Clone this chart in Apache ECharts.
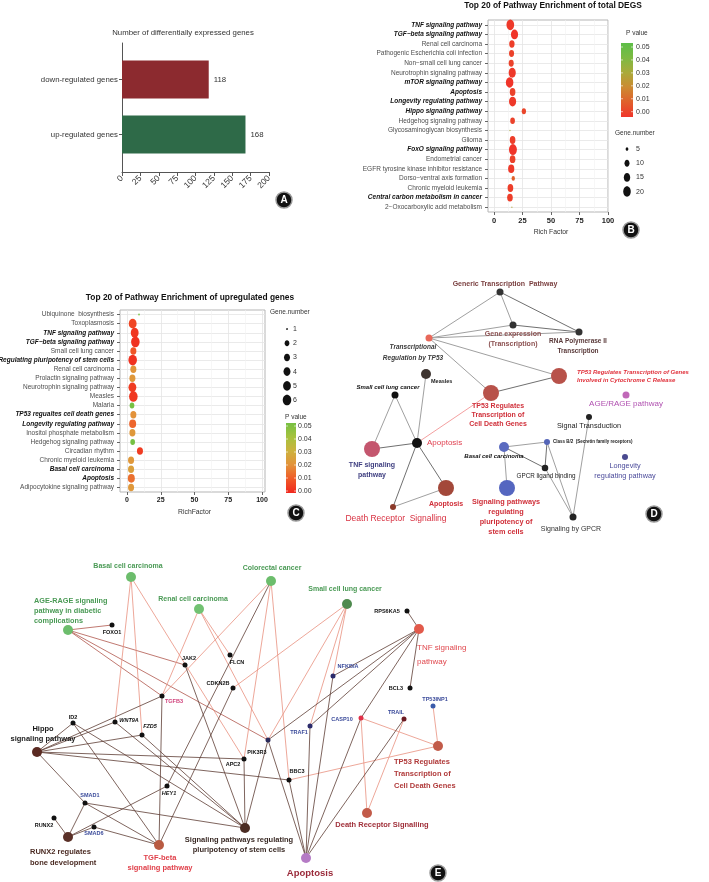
<!DOCTYPE html>
<html><head><meta charset="utf-8">
<script src="https://cdn.jsdelivr.net/npm/echarts@6/dist/echarts.min.js"></script>
<style>html,body{margin:0;padding:0;background:#fff}#c{width:709px;height:882px}</style>
</head><body><div id="c"></div>
<script>
// ---------------- DATA ----------------
// Panel A
const degCategories = ['down-regulated genes', 'up-regulated genes'];
const degCounts = [118, 168];

// Panel B
const pathwaysB = ['TNF signaling pathway','TGF\u2212beta signaling pathway','Renal cell carcinoma','Pathogenic Escherichia coli infection','Non\u2212small cell lung cancer','Neurotrophin signaling pathway','mTOR signaling pathway','Apoptosis','Longevity regulating pathway','Hippo signaling pathway','Hedgehog signaling pathway','Glycosaminoglycan biosynthesis','Glioma','FoxO signaling pathway','Endometrial cancer','EGFR tyrosine kinase inhibitor resistance','Dorso\u2212ventral axis formation','Chronic myeloid leukemia','Central carbon metabolism in cancer','2\u2212Oxocarboxylic acid metabolism'];
const richFactorB = [14.3,18,15.7,15.4,15.1,16,13.7,16.3,16.3,26.2,16.3,14,16.3,16.6,16.3,15.1,16.9,14.4,14,15.7];
const geneNumberB = [21,18,11,10,10,18,20,12,18,8,9,3,12,22,12,14,6,12,12,3];
const pValueB = [0.001,0.000,0.002,0.003,0.003,0.001,0.000,0.003,0.001,0.004,0.003,0.030,0.002,0.000,0.003,0.001,0.010,0.002,0.002,0.028];
const emphasizedB = ['TNF signaling pathway','TGF\u2212beta signaling pathway','mTOR signaling pathway','Apoptosis','Longevity regulating pathway','Hippo signaling pathway','FoxO signaling pathway','Central carbon metabolism in cancer'];
const sizeLegendB = [5,10,15,20];
const pTicks = [0.05,0.04,0.03,0.02,0.01,0.00];

// Panel C
const pathwaysC = ['Ubiquinone  biosynthesis','Toxoplasmosis','TNF signaling pathway','TGF\u2212beta signaling pathway','Small cell lung cancer','Regulating pluripotency of stem cells','Renal cell carcinoma','Prolactin signaling pathway','Neurotrophin signaling pathway','Measles','Malaria','TP53 regualtes cell death genes','Longevity regulating pathway','Inositol phosphate metabolism','Hedgehog signaling pathway','Circadian rhythm','Chronic myeloid leukemia','Basal cell carcinoma','Apoptosis','Adipocytokine signaling pathway'];
const richFactorC = [8.9,4.2,5.7,6.2,4.7,4.2,4.7,4.0,4.0,4.7,3.7,4.7,4.2,4.0,4.2,9.6,3.0,3.0,3.2,3.0];
const geneNumberC = [1,5,5,6,3,6,3,3,5,6,2,3,4,3,2,3,3,3,4,3];
const pValueC = [0.07,0.006,0.003,0.002,0.009,0.002,0.021,0.022,0.004,0.003,0.07,0.020,0.012,0.022,0.07,0.004,0.022,0.024,0.014,0.022];
const emphasizedC = ['TNF signaling pathway','TGF\u2212beta signaling pathway','Regulating pluripotency of stem cells','TP53 regualtes cell death genes','Longevity regulating pathway','Basal cell carcinoma','Apoptosis'];
const sizeLegendC = [1,2,3,4,5,6];

// Panel D network
const netDNodes = ['Generic Transcription  Pathway','Gene expression\n(Transcription)','RNA Polymerase II\nTranscription','Transcriptional\nRegulation by TP53','Measles','Small cell lung cancer','TP53 Regulates\nTranscription of\nCell Death Genes','TP53 Regulates Transcription of Genes\nInvolved in Cytochrome C Release','Apoptosis','TNF signaling\npathway','Apoptosis ','Death Receptor  Signalling','AGE/RAGE pathway','Signal Transduction','Class B/2  (Secretin family receptors)','Basal cell carcinoma','GPCR ligand binding','Longevity\nregulating pathway','Signaling pathways\nregulating\npluripotency of\nstem cells','Signaling by GPCR'];
const netDEdges = [[0,3],[0,1],[0,2],[1,2],[3,1],[3,2],[3,6],[3,7],[6,7],[8,6],[4,8],[5,8],[5,9],[9,8],[8,10],[8,11],[11,10],[15,14],[15,16],[15,18],[14,16],[14,19],[16,19],[13,19]];
const netDEdgeKind = ['g','g','d','d','g','g','g','g','d','p','g','g','g','d','d','d','g','g','d','g','d','g','g','g'];
// Panel E network
const netENodes = ['Basal cell carcinoma','Colorectal cancer','Renal cell carcinoma','AGE-RAGE signaling\npathway in diabetic\ncomplications','Small cell lung cancer','TNF signaling\npathway','Hippo\nsignaling pathway','RUNX2 regulates\nbone development','TGF-beta\nsignaling pathway','Signaling pathways regulating\npluripotency of stem cells','Apoptosis','Death Receptor Signalling','TP53 Regulates\nTranscription of\nCell Death Genes','FOXO1','JAK2','FLCN','CDKN2B','NFKBIA','TGFB3','RPS6KA5','BCL3','TP53INP1','ID2','WNT9A','FZD5','PIK3R3','APC2','TRAF1','CASP10','TRAIL','BBC3','HEY1','SMAD1','SMAD6','RUNX2'];
const netEEdges = [
 [3,13,'r'],[3,14,'r'],[3,18,'r'],[3,25,'r'],
 [0,23,'s'],[0,24,'s'],[0,26,'s'],
 [2,18,'s'],[2,15,'s'],[2,25,'s'],
 [1,18,'s'],[1,26,'s'],[1,30,'s'],[1,31,'d'],
 [4,16,'s'],[4,25,'s'],[4,27,'s'],[4,17,'s'],
 [5,19,'d'],[5,20,'d'],[5,17,'d'],[5,25,'d'],[5,27,'d'],[5,28,'d'],
 [12,21,'s'],[12,28,'s'],[12,30,'s'],
 [11,28,'s'],[11,29,'s'],
 [10,25,'d'],[10,27,'d'],[10,28,'d'],[10,29,'d'],[10,30,'d'],[10,17,'d'],
 [6,22,'d'],[6,23,'d'],[6,24,'d'],[6,18,'d'],[6,26,'d'],[6,30,'d'],[6,32,'d'],
 [8,22,'d'],[8,18,'d'],[8,16,'d'],[8,32,'d'],[8,33,'d'],
 [9,22,'d'],[9,23,'d'],[9,24,'d'],[9,14,'d'],[9,26,'d'],[9,32,'d'],[9,25,'d'],
 [7,34,'d'],[7,32,'d'],[7,33,'d'],[7,31,'d']
];

// ---------------- LAYOUT & STYLE (not data) ----------------
const layoutD = [[200,22],[213,55],[279,62],[129,68],[126,104],[95,125],[191,123],[259,106],[117,173],[72,179],[146,218],[93,237],[326,125],[289,147],[247,172],[204,177],[245,198],[325,187],[207,218],[273,247]];
// size, fill, dx, dy, align, fontSize, weight, italic, textColor, lineHeight
const styleD = [
 [7,'#333',5,-8,'center',7,'bold',0,'#7A3F3F',9],
 [7,'#333',0,14,'center',7,'bold',0,'#8B5050',10],
 [7,'#333',-1,14,'center',6.5,'bold',0,'#5A3A3A',10],
 [7,'#E8685A',-16,14.5,'center',6.5,'bold',1,'#3A3A3A',11],
 [10,'#3E3430',5,7,'left',5.5,'bold',0,'#222',8],
 [7,'#111',-7,-8,'center',6,'bold',1,'#111',8],
 [16,'#B8524A',7,22,'center',7,'bold',0,'#D0303A',9],
 [16,'#B8524A',18,0,'left',6,'bold',1,'#E0303A',8],
 [10,'#111',10,0,'left',8,'normal',0,'#E04050',9],
 [16,'#C4566E',0,21,'center',7,'bold',0,'#3F3F80',10],
 [16,'#A3483A',1,16,'center',7,'bold',0,'#D0303A',9],
 [6,'#8B3A2A',3,12,'center',8.5,'normal',0,'#D83040',10],
 [7,'#C068B8',0,9,'center',8,'normal',0,'#B050B0',10],
 [6,'#222',0,9,'center',7.3,'normal',0,'#222',9],
 [6,'#5566B8',6,0,'left',4.5,'bold',0,'#222',6],
 [10,'#5B6BC0',-10,9,'center',6,'bold',1,'#111',8],
 [6.5,'#222',1,8,'center',6.3,'normal',0,'#222',8],
 [6,'#4A4A90',0,14,'center',7.3,'normal',0,'#4A4A9A',10],
 [16,'#5566C0',-1,29,'center',7.3,'bold',0,'#D0303A',10.3],
 [7,'#222',-2,12,'center',7,'normal',0,'#333',9]
];
const layoutE = [[131,37],[271,41],[199,69],[68,90],[347,64],[419,89],[37,212],[68,297],[159,305],[245,288],[306,318],[367,273],[438,206],[112,85],[185,125],[230,115],[233,148],[333,136],[162,156],[407,71],[410,148],[433,166],[73,183],[115,182],[142,195],[268,200],[244,219],[310,186],[361,178],[404,179],[289,240],[167,246],[85,263],[94,287],[54,278]];
const GREEN_T = '#4A9A55', BLUE_T = '#3A4A9A';
const styleE = [
 [10,'#6CBD6C',-3,-11,'center',7,'bold',0,GREEN_T,9],
 [10,'#6CBD6C',1,-13,'center',7,'bold',0,GREEN_T,9],
 [10,'#72C272',-6,-10,'center',7,'bold',0,GREEN_T,9],
 [10,'#6CBD6C',-34,-19,'left',7.3,'bold',0,GREEN_T,10],
 [10,'#4E8A4E',-2,-15,'center',7,'bold',0,GREEN_T,9],
 [10,'#E25A4B',-2,26,'left',8,'normal',0,'#E0484E',14],
 [10,'#5A2A22',6,-18,'center',7.5,'bold',0,'#1A1A1A',10],
 [10,'#5A3027',-38,20,'left',7.5,'bold',0,'#4A2A22',11],
 [10,'#B95B42',1,18,'center',7.5,'bold',0,'#E0404A',10],
 [10,'#4B2C23',-6,17,'center',7.5,'bold',0,'#3A2A25',10.5],
 [10,'#B57BC5',4,15,'center',9.5,'bold',0,'#9A2A3A',11],
 [10,'#C25B49',15,12,'center',7.5,'bold',0,'#A0303A',9],
 [10,'#C25B49',-44,28,'left',7.5,'bold',0,'#B03A3A',12],
 [5,'#111',0,7,'center',5.5,'bold',0,'#111',7],
 [5,'#111',4,-7,'center',5.5,'bold',0,'#111',7],
 [5,'#111',7,7,'center',5.5,'bold',0,'#111',7],
 [5,'#111',-15,-5,'center',5.5,'bold',0,'#111',7],
 [5,'#2B2B6B',15,-10,'center',5.5,'bold',0,BLUE_T,7],
 [5,'#111',12,5,'center',5.5,'bold',0,'#D0407A',7],
 [5,'#111',-20,0,'center',5.5,'bold',0,'#111',7],
 [5,'#111',-14,0,'center',5.5,'bold',0,'#111',7],
 [5,'#3A5BAA',2,-7,'center',5.5,'bold',0,BLUE_T,7],
 [5,'#111',0,-6,'center',5.5,'bold',0,'#111',7],
 [5,'#111',14,-2,'center',5.5,'bold',1,'#111',7],
 [5,'#111',8,-9,'center',5.5,'bold',1,'#111',7],
 [5,'#2B2B5B',-11,12,'center',5.5,'bold',0,'#111',7],
 [5,'#111',-11,5,'center',5.5,'bold',0,'#111',7],
 [5,'#2B2B6B',-11,6,'center',5.5,'bold',0,BLUE_T,7],
 [5,'#E03048',-19,1,'center',5.5,'bold',0,BLUE_T,7],
 [5,'#6B1A22',-8,-7,'center',5.5,'bold',0,BLUE_T,7],
 [5,'#111',8,-9,'center',5.5,'bold',0,'#111',7],
 [5,'#111',2,7,'center',5.5,'bold',1,'#111',7],
 [5,'#111',5,-8,'center',5.5,'bold',0,BLUE_T,7],
 [5,'#111',0,6,'center',5.5,'bold',0,BLUE_T,7],
 [5,'#111',-10,7,'center',5.5,'bold',0,'#111',7]
];
const edgeColorD = {g:'#A0A0A0', d:'#707070', p:'#F4A0A0'};
const edgeColorE = {s:'#E8917F', d:'#5E3D35', r:'#B0574D'};
const degColors = ['#8C2A2F', '#2E6A48'];
const colorsB = ['#F0352A','#E0602C','#CC8A32','#AAAA3A','#7DBA42','#5DBE48'];
const colorsC = ['#F0281E','#F05A28','#E3923A','#CDB23E','#A6C23E','#76C043'];

const SANS = "'Liberation Sans',Arial,Helvetica,sans-serif";
const NARROW = SANS;

function sizeB(n){ return 1.5 + 9.5*Math.sqrt(Math.max(0,n-4)/18); }
function sizeC(n){ return 2 + 8.7*Math.sqrt(Math.max(0,n-1)/5); }

function richLabels(emph, fs){
  const set = new Set(emph);
  return {
    formatter: v => set.has(v) ? '{b|'+v+'}' : '{n|'+v+'}',
    rich: {
      b: {fontSize: fs, fontWeight:'bold', fontStyle:'italic', color:'#111', fontFamily: SANS},
      n: {fontSize: fs, color:'#4D4D4D', fontFamily: SANS}
    }
  };
}

function graphNodes(names, layout, style){
  return names.map((nm, i) => {
    const s = style[i];
    return {
      name: 'n'+i, value: layout[i], symbol:'circle', symbolSize: s[0],
      itemStyle: {color: s[1]},
      label: {show:true, position:'inside', formatter: nm, offset:[s[2], s[3]], align: s[4], verticalAlign:'middle',
        fontSize: s[5], fontWeight: s[6], fontStyle: s[7] ? 'italic':'normal', color: s[8], lineHeight: s[9], fontFamily: SANS}
    };
  });
}

// ---------------- LEGENDS, TITLES & BADGES (graphic) ----------------
const graphics = [];
function txt(x, y, text, o){
  graphics.push({type:'text', x, y, silent:true, style: Object.assign({text, fill:'#333', fontSize:6.5, fontFamily:SANS, align:'left', verticalAlign:'middle'}, o||{})});
}
function colorbar(x, y, w, h, colors, yTop, yBot, lx){
  graphics.push({type:'rect', silent:true, shape:{x, y, width:w, height:h},
    style:{fill: new echarts.graphic.LinearGradient(0,0,0,1, colors.slice().reverse().map((c,i,a)=>({offset:i/(a.length-1), color:c})))}});
  pTicks.forEach(v => {
    const yy = yBot - (v/0.05)*(yBot-yTop);
    txt(lx, yy, v.toFixed(2), {fontSize:7});
    graphics.push({type:'line', silent:true, shape:{x1:x, y1:yy, x2:x+2, y2:yy}, style:{stroke:'#fff', lineWidth:0.6}});
    graphics.push({type:'line', silent:true, shape:{x1:x+w-2, y1:yy, x2:x+w, y2:yy}, style:{stroke:'#fff', lineWidth:0.6}});
  });
}
function badge(x, y, letter){
  graphics.push({type:'circle', silent:true, shape:{cx:x, cy:y, r:8}, style:{fill:'#111', stroke:'#9A9A9A', lineWidth:1.5}});
  txt(x, y+0.5, letter, {fill:'#fff', fontSize:10, fontWeight:'bold', align:'center'});
}
// titles
txt(183, 33, 'Number of differentially expressed genes', {fontSize:7.8, align:'center', fill:'#333'});
txt(553, 6, 'Top 20 of Pathway Enrichment of total DEGS', {fontSize:8.4, fontWeight:'bold', align:'center', fill:'#111'});
txt(190, 298, 'Top 20 of Pathway Enrichment of upregulated genes', {fontSize:8.4, fontWeight:'bold', align:'center', fill:'#111'});
// B legends
txt(626, 33, 'P value', {fontSize:6.5});
colorbar(621, 43, 12, 74, colorsB, 47, 111.7, 636);
txt(615, 133, 'Gene.number', {fontSize:6.5});
sizeLegendB.forEach((n, i) => {
  const y = 149 + i*14.2, d = sizeB(n);
  graphics.push({type:'ellipse', silent:true, shape:{cx:627, cy:y, rx:0.36*d, ry:d/2}, style:{fill:'#111'}});
  txt(636, y, String(n), {fontSize:7});
});
// C legends
txt(270, 312, 'Gene.number', {fontSize:6.5});
sizeLegendC.forEach((n, i) => {
  const y = 329 + i*14.2, d = sizeC(n);
  graphics.push({type:'ellipse', silent:true, shape:{cx:287, cy:y, rx:0.4*d, ry:d/2}, style:{fill:'#111'}});
  txt(293, y, String(n), {fontSize:7});
});
txt(285, 417, 'P value', {fontSize:6.5});
colorbar(286, 423, 10, 70, colorsC, 426, 491, 298);
badge(284, 200, 'A'); badge(631, 230, 'B'); badge(296, 513, 'C'); badge(654, 514, 'D'); badge(438, 873, 'E');

// ---------------- OPTION ----------------
const dotXAxis = (gi, name, fs) => ({gridIndex:gi, type:'value', min:0, max:100, interval:25,
  axisLine:{show:false}, axisTick:{show:true, length:3, lineStyle:{color:'#666'}},
  axisLabel:{fontSize:fs, fontWeight:'bold', color:'#222', margin:5, fontFamily:SANS},
  splitLine:{show:true, lineStyle:{color:'#E4E4E4', width:0.8}},
  minorTick:{show:false, splitNumber:2}, minorSplitLine:{show:true, lineStyle:{color:'#F2F2F2', width:0.6}},
  name, nameLocation:'middle', nameGap:17, nameTextStyle:{fontSize:6.8, color:'#333', fontFamily:SANS}});
const frameYAxis = (gi, cats, emph, fs) => ({gridIndex:gi, type:'category', inverse:true, data:cats,
  axisLine:{show:false}, axisTick:{show:true, alignWithLabel:true, length:3, lineStyle:{color:'#666'}},
  axisLabel: Object.assign({margin:6, interval:0}, richLabels(emph, fs)),
  splitLine:{show:true, alignWithLabel:true, lineStyle:{color:'#E4E4E4', width:0.8}}});
const G = o => Object.assign({outerBoundsMode:'none', containLabel:false}, o);

const option = {
  animation:false,
  backgroundColor:'#fff',
  grid:[
    G({left:122, top:43, width:147, height:129}),
    G({left:122, top:52, width:147, height:110}),
    G({left:488, top:20, width:120, height:192, show:true, borderColor:'#B5B5B5', borderWidth:1}),
    G({left:494, top:20, width:114, height:192}),
    G({left:120, top:310, width:145, height:182, show:true, borderColor:'#B5B5B5', borderWidth:1}),
    G({left:127, top:310, width:135, height:182}),
    G({left:300, top:270, width:409, height:270}),
    G({left:0, top:540, width:709, height:342})
  ],
  xAxis:[
    {gridIndex:0, type:'value', min:0, max:200, interval:25, axisLine:{show:true, lineStyle:{color:'#555'}},
     axisTick:{show:true, length:4, lineStyle:{color:'#555'}}, splitLine:{show:false},
     axisLabel:{rotate:45, fontSize:8.5, color:'#333', margin:5, fontFamily:SANS}},
    {gridIndex:1, type:'value', min:0, max:200, show:false},
    {gridIndex:2, type:'value', min:0, max:1, show:false},
    dotXAxis(3, 'Rich Factor', 7.5),
    {gridIndex:4, type:'value', min:0, max:1, show:false},
    dotXAxis(5, 'RichFactor', 7),
    {gridIndex:6, type:'value', min:0, max:409, show:false},
    {gridIndex:7, type:'value', min:0, max:709, show:false}
  ],
  yAxis:[
    {gridIndex:0, type:'value', min:0, max:1, axisLine:{show:true, lineStyle:{color:'#555'}}, axisTick:{show:false}, axisLabel:{show:false}, splitLine:{show:false}},
    {gridIndex:1, type:'category', inverse:true, data:degCategories, axisLine:{show:false},
     axisTick:{show:true, alignWithLabel:true, length:3, lineStyle:{color:'#555'}},
     axisLabel:{fontSize:7.8, color:'#333', margin:4, fontFamily:SANS}},
    frameYAxis(2, pathwaysB, emphasizedB, 6.5),
    {gridIndex:3, type:'category', inverse:true, data:pathwaysB, show:false},
    frameYAxis(4, pathwaysC, emphasizedC, 6.5),
    {gridIndex:5, type:'category', inverse:true, data:pathwaysC, show:false},
    {gridIndex:6, type:'value', min:0, max:270, inverse:true, show:false},
    {gridIndex:7, type:'value', min:0, max:342, inverse:true, show:false}
  ],
  visualMap:[
    {type:'continuous', show:false, seriesIndex:1, dimension:3, min:0, max:0.05, inRange:{color:colorsB}},
    {type:'continuous', show:false, seriesIndex:2, dimension:3, min:0, max:0.05, inRange:{color:colorsC}, outOfRange:{color:'#8C8C8C'}}
  ],
  series:[
    {type:'bar', xAxisIndex:1, yAxisIndex:1, barWidth:38,
     data: degCounts.map((v,i)=>({value:v, itemStyle:{color:degColors[i]}})),
     label:{show:true, position:'right', distance:5, fontSize:7.8, color:'#333', fontFamily:SANS}},
    {type:'scatter', xAxisIndex:3, yAxisIndex:3,
     data: pathwaysB.map((p,i)=>[richFactorB[i], i, geneNumberB[i], pValueB[i]]),
     symbolSize: v => [0.72*sizeB(v[2]), sizeB(v[2])], itemStyle:{opacity:1}},
    {type:'scatter', xAxisIndex:5, yAxisIndex:5,
     data: pathwaysC.map((p,i)=>[richFactorC[i], i, geneNumberC[i], pValueC[i]]),
     symbolSize: v => [0.8*sizeC(v[2]), sizeC(v[2])], itemStyle:{opacity:1}},
    {type:'graph', coordinateSystem:'cartesian2d', xAxisIndex:6, yAxisIndex:6, silent:true,
     data: graphNodes(netDNodes, layoutD, styleD),
     links: netDEdges.map((e,i)=>({source:'n'+e[0], target:'n'+e[1], lineStyle:{color:edgeColorD[netDEdgeKind[i]], width:1, opacity:1}})),
     lineStyle:{curveness:0}, emphasis:{disabled:true}},
    {type:'graph', coordinateSystem:'cartesian2d', xAxisIndex:7, yAxisIndex:7, silent:true,
     data: graphNodes(netENodes, layoutE, styleE),
     links: netEEdges.map(e=>({source:'n'+e[0], target:'n'+e[1], lineStyle:{color:edgeColorE[e[2]], width:0.8, opacity:1}})),
     lineStyle:{curveness:0}, emphasis:{disabled:true}}
  ],
  graphic: graphics
};
const chart = echarts.init(document.getElementById('c'), null, {renderer:'canvas'});
chart.setOption(option);
</script></body></html>
